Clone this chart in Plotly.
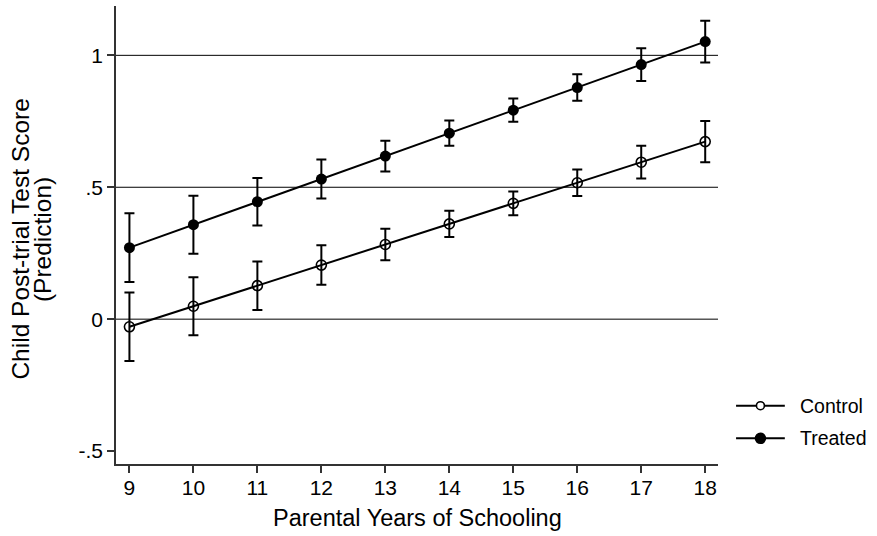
import plotly.graph_objects as go

# Predicted post-trial scores by parental schooling, with 95% CIs
years = [9, 10, 11, 12, 13, 14, 15, 16, 17, 18]

control_pred = [-0.029, 0.049, 0.127, 0.205, 0.283, 0.361, 0.439, 0.517, 0.595, 0.673]
control_ci = [0.130, 0.110, 0.092, 0.075, 0.060, 0.050, 0.045, 0.050, 0.062, 0.078]

treated_pred = [0.271, 0.358, 0.445, 0.531, 0.618, 0.705, 0.792, 0.878, 0.965, 1.052]
treated_ci = [0.130, 0.110, 0.090, 0.074, 0.058, 0.048, 0.044, 0.050, 0.062, 0.079]

series_names = ["Control", "Treated"]

y_tickvals = [-0.5, 0, 0.5, 1]
y_ticktext = ["-.5", "0", ".5", "1"]
grid_values = [0, 0.5, 1]

x_title = "Parental Years of Schooling"
y_title_lines = ["Child Post-trial Test Score", "(Prediction)"]

FONT = "Arial, Liberation Sans, sans-serif"
INK = "black"

fig = go.Figure()

fig.add_trace(go.Scatter(
    x=years, y=control_pred, name=series_names[0], mode="lines+markers",
    line=dict(color=INK, width=2),
    marker=dict(symbol="circle-open", size=10, color=INK, line=dict(width=1.6)),
    error_y=dict(type="data", array=control_ci, visible=True,
                 color=INK, thickness=2, width=5),
    showlegend=False,
))
fig.add_trace(go.Scatter(
    x=years, y=treated_pred, name=series_names[1], mode="lines+markers",
    line=dict(color=INK, width=2),
    marker=dict(symbol="circle", size=11, color=INK),
    error_y=dict(type="data", array=treated_ci, visible=True,
                 color=INK, thickness=2, width=5),
    showlegend=False,
))

shapes = []
# horizontal reference lines
for g in grid_values:
    shapes.append(dict(type="line", xref="paper", yref="y", x0=0, x1=1, y0=g, y1=g,
                       line=dict(color=INK, width=1), layer="below"))

# legend drawn at the right of the plot
legend_rows = [(series_names[0], 0.1273, "open"), (series_names[1], 0.0561, "filled")]
annotations = []
for name, ly, style in legend_rows:
    shapes.append(dict(type="line", xref="paper", yref="paper", x0=1.030, x1=1.111,
                       y0=ly, y1=ly, line=dict(color=INK, width=2)))
    d = 8 if style == "open" else 10
    shapes.append(dict(type="circle", xref="paper", yref="paper",
                       xsizemode="pixel", ysizemode="pixel",
                       xanchor=1.0705, yanchor=ly,
                       x0=-d / 2, x1=d / 2, y0=-d / 2, y1=d / 2,
                       fillcolor="white" if style == "open" else INK,
                       line=dict(color=INK, width=1.6)))
    annotations.append(dict(text=name, xref="paper", yref="paper", x=1.133, y=ly,
                            xanchor="left", yanchor="middle", showarrow=False,
                            font=dict(family=FONT, size=19.5, color=INK)))

# axis titles
annotations.append(dict(text=x_title, xref="paper", yref="paper", x=0.5, y=-0.118,
                        xanchor="center", yanchor="middle", showarrow=False,
                        font=dict(family=FONT, size=23.5, color=INK)))
for line_text, shift in zip(y_title_lines, [-95, -73.5]):
    annotations.append(dict(text=line_text, xref="paper", yref="paper", x=0, y=0.49,
                            xanchor="center", yanchor="middle", xshift=shift,
                            textangle=-90, showarrow=False,
                            font=dict(family=FONT, size=24.5, color=INK)))

fig.update_layout(
    width=877, height=536,
    margin=dict(l=116, r=159, t=6, b=72),
    paper_bgcolor="white", plot_bgcolor="white",
    font=dict(family=FONT, size=21, color=INK),
    shapes=shapes, annotations=annotations,
)
fig.update_xaxes(
    range=[8.79, 18.2], tickvals=years, showgrid=False, zeroline=False,
    showline=True, linecolor="#333333", linewidth=1.5,
    ticks="outside", ticklen=7, tickwidth=1.5, tickcolor="#333333",
    ticklabelstandoff=-3,
    tickfont=dict(family=FONT, size=21, color=INK),
)
fig.update_yaxes(
    range=[-0.549, 1.187], tickvals=y_tickvals, ticktext=y_ticktext,
    showgrid=False, zeroline=False,
    showline=True, linecolor="#333333", linewidth=1.5,
    ticks="outside", ticklen=7, tickwidth=1.5, tickcolor="#333333",
    tickfont=dict(family=FONT, size=21, color=INK),
)

fig.write_html("out.html")
